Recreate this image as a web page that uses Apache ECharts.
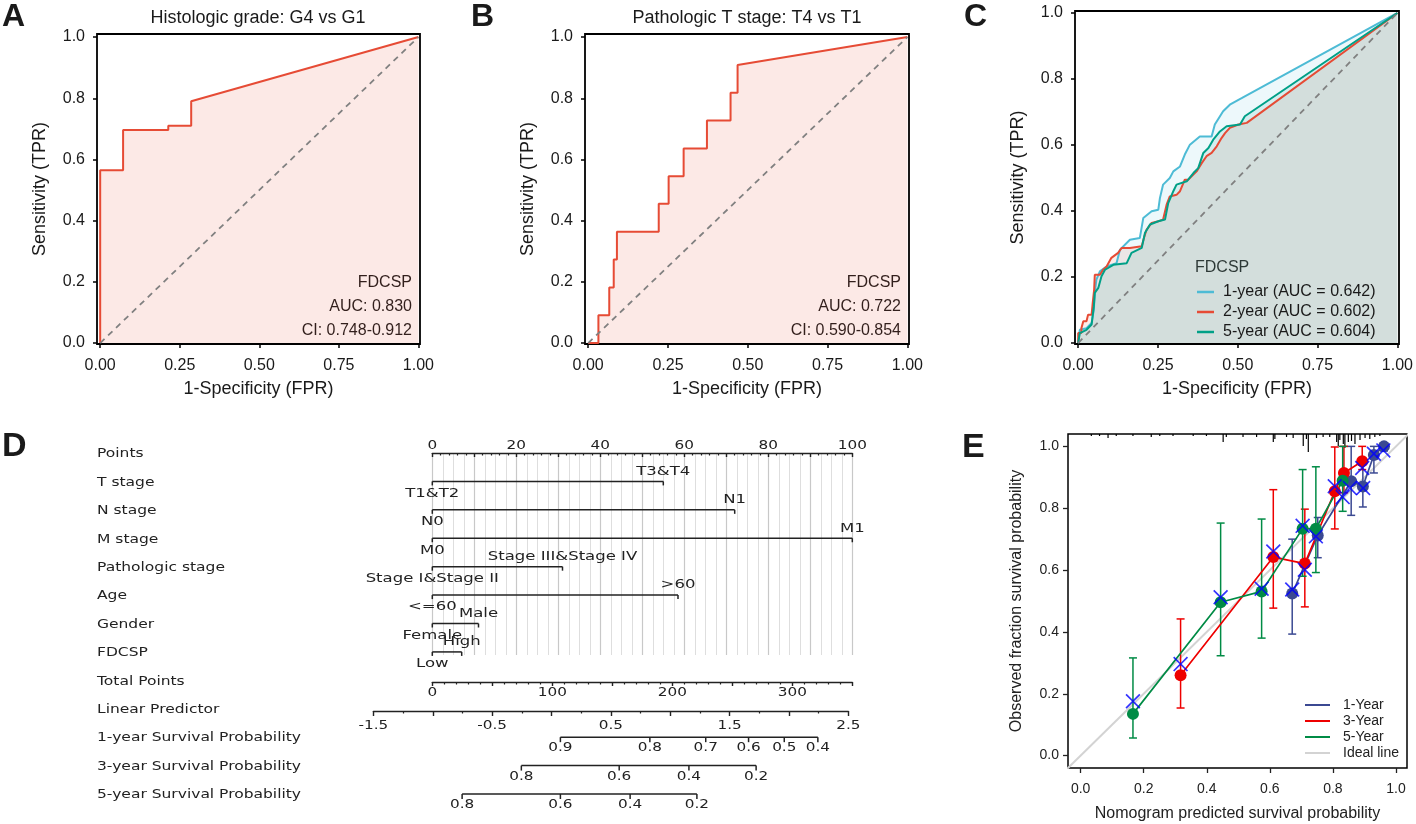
<!DOCTYPE html>
<html>
<head>
<meta charset="utf-8">
<script src="https://cdn.jsdelivr.net/npm/echarts@6.0.0/dist/echarts.min.js"></script>
<style>
html, body { margin: 0; padding: 0; background: #fff; }
#chart { width: 1416px; height: 824px; }
</style>
</head>
<body>
<div id="chart"></div>
<script>
// ---- A: histologic grade G4 vs G1 (ROC corners)
var rocA_fpr = [0, 0, 0.072, 0.072, 0.214, 0.214, 0.286, 0.286, 1];
var rocA_tpr = [0, 0.565, 0.565, 0.696, 0.696, 0.71, 0.71, 0.79, 1];
var annotA = ['FDCSP', 'AUC: 0.830', 'CI: 0.748-0.912'];

// ---- B: pathologic T stage T4 vs T1
var rocB_fpr = [0, 0.032, 0.032, 0.066, 0.066, 0.08, 0.08, 0.09, 0.09, 0.221, 0.221, 0.252, 0.252, 0.299, 0.299, 0.372, 0.372, 0.446, 0.446, 0.468, 0.468, 1];
var rocB_tpr = [0, 0, 0.091, 0.091, 0.182, 0.182, 0.273, 0.273, 0.364, 0.364, 0.455, 0.455, 0.545, 0.545, 0.636, 0.636, 0.727, 0.727, 0.818, 0.818, 0.909, 1];
var annotB = ['FDCSP', 'AUC: 0.722', 'CI: 0.590-0.854'];

// ---- C: time dependent ROC
var cYears = ['1-year', '2-year', '5-year'];
var cAuc = ['0.642', '0.602', '0.604'];
var roc1_fpr = [0, 0.005, 0.026, 0.042, 0.049, 0.052, 0.057, 0.068, 0.089, 0.12, 0.131, 0.162, 0.193, 0.204, 0.23, 0.251, 0.256, 0.266, 0.287, 0.298, 0.319, 0.334, 0.35, 0.381, 0.418, 0.428, 0.454, 0.475, 0.502, 0.512, 1];
var roc1_tpr = [0, 0.04, 0.045, 0.061, 0.101, 0.152, 0.192, 0.217, 0.232, 0.242, 0.283, 0.313, 0.318, 0.379, 0.399, 0.404, 0.439, 0.48, 0.5, 0.52, 0.535, 0.571, 0.601, 0.626, 0.626, 0.662, 0.702, 0.722, 0.737, 0.742, 1];
var roc2_fpr = [0, 0, 0.01, 0.01, 0.016, 0.016, 0.026, 0.026, 0.031, 0.031, 0.042, 0.045, 0.05, 0.052, 0.068, 0.078, 0.089, 0.104, 0.125, 0.136, 0.162, 0.199, 0.206, 0.214, 0.23, 0.251, 0.266, 0.277, 0.287, 0.308, 0.319, 0.334, 0.345, 0.371, 0.387, 0.402, 0.418, 0.434, 0.449, 0.46, 0.475, 0.502, 0.528, 1];
var roc2_tpr = [0, 0.03, 0.03, 0.045, 0.045, 0.066, 0.066, 0.071, 0.071, 0.086, 0.086, 0.116, 0.162, 0.207, 0.207, 0.222, 0.232, 0.258, 0.273, 0.288, 0.288, 0.293, 0.318, 0.343, 0.364, 0.369, 0.374, 0.419, 0.444, 0.449, 0.46, 0.495, 0.495, 0.52, 0.545, 0.566, 0.576, 0.596, 0.621, 0.636, 0.652, 0.662, 0.667, 1];
var roc5_fpr = [0, 0.005, 0.026, 0.042, 0.049, 0.052, 0.063, 0.073, 0.084, 0.11, 0.152, 0.167, 0.199, 0.209, 0.225, 0.251, 0.272, 0.282, 0.298, 0.308, 0.34, 0.361, 0.376, 0.392, 0.408, 0.423, 0.444, 0.465, 0.507, 0.522, 1];
var roc5_tpr = [0, 0.03, 0.04, 0.056, 0.111, 0.152, 0.167, 0.202, 0.222, 0.237, 0.242, 0.273, 0.288, 0.333, 0.359, 0.369, 0.374, 0.424, 0.46, 0.48, 0.49, 0.515, 0.53, 0.576, 0.591, 0.616, 0.641, 0.657, 0.662, 0.687, 1];

var chanceX = [0, 1];
var chanceY = [0, 1];
var rocTicks = [0, 0.25, 0.5, 0.75, 1];
var tprTicks = [0, 0.2, 0.4, 0.6, 0.8, 1];

// ---- D: nomogram (positions on the 0-100 points scale)
var nomoRows = ['Points', 'T stage', 'N stage', 'M stage', 'Pathologic stage', 'Age', 'Gender', 'FDCSP',
  'Total Points', 'Linear Predictor', '1-year Survival Probability', '3-year Survival Probability', '5-year Survival Probability'];
var tLevels = ['T1&T2', 'T3&T4'], tPoints = [0, 55];
var nLevels = ['N0', 'N1'], nPoints = [0, 72];
var mLevels = ['M0', 'M1'], mPoints = [0, 100];
var stageLevels = ['Stage I&Stage II', 'Stage III&Stage IV'], stagePoints = [0, 31];
var ageLevels = ['<=60', '>60'], agePoints = [0, 58.5];
var genderLevels = ['Female', 'Male'], genderPoints = [0, 11];
var fdcspLevels = ['Low', 'High'], fdcspPoints = [0, 7];
var surv1Labels = ['0.9', '0.8', '0.7', '0.6', '0.5', '0.4'], surv1Points = [30.5, 51.8, 65.1, 75.3, 83.8, 91.8];
var surv3Labels = ['0.8', '0.6', '0.4', '0.2'], surv3Points = [21.2, 44.5, 61.1, 77.1];
var surv5Labels = ['0.8', '0.6', '0.4', '0.2'], surv5Points = [7.1, 30.5, 47.1, 63.0];
var pointsLabels = [0, 20, 40, 60, 80, 100];
var totalLabels = [0, 100, 200, 300];
var lpLabels = [-1.5, -0.5, 0.5, 1.5, 2.5];

// ---- E: calibration
var e1x = [0.671, 0.752, 0.858, 0.895, 0.93, 0.962];
var e1y = [0.524, 0.712, 0.887, 0.87, 0.972, 1.0];
var e1lo = [0.393, 0.64, 0.777, 0.804, 0.914, 0.985];
var e1hi = [0.70, 0.77, 1.0, 0.946, 1.0, 1.0];
var e3x = [0.317, 0.611, 0.711, 0.806, 0.835, 0.893];
var e3y = [0.26, 0.642, 0.621, 0.855, 0.914, 0.952];
var e3lo = [0.154, 0.477, 0.481, 0.733, 0.85, 0.925];
var e3hi = [0.442, 0.86, 0.797, 0.998, 1.0, 1.0];
var e5x = [0.166, 0.444, 0.574, 0.704, 0.746, 0.831];
var e5y = [0.135, 0.496, 0.531, 0.734, 0.734, 0.889];
var e5lo = [0.057, 0.323, 0.38, 0.58, 0.592, 0.79];
var e5hi = [0.316, 0.752, 0.765, 0.925, 0.934, 1.0];
var eCorrX = [0.166, 0.317, 0.444, 0.574, 0.611, 0.671, 0.704, 0.711, 0.746, 0.806, 0.831, 0.854, 0.896, 0.893, 0.93, 0.96];
var eCorrY = [0.176, 0.296, 0.512, 0.54, 0.66, 0.537, 0.743, 0.601, 0.709, 0.871, 0.836, 0.865, 0.865, 0.93, 0.976, 0.987];
var rugX = [0.034, 0.06, 0.087, 0.113, 0.166, 0.224, 0.251, 0.293, 0.357, 0.399, 0.452, 0.462, 0.515, 0.558, 0.611, 0.616, 0.653, 0.674, 0.706, 0.716, 0.722, 0.748, 0.769, 0.79, 0.812, 0.817, 0.822, 0.833, 0.838, 0.849, 0.859, 0.87, 0.886, 0.902, 0.917, 0.933, 0.949];
var rugLen = [2, 2, 4, 2, 2, 3, 2, 2, 2, 2, 8, 3, 3, 3, 8, 5, 3, 4, 12, 5, 18, 4, 3, 3, 8, 12, 6, 10, 14, 8, 7, 10, 6, 4, 5, 3, 2];
var idealX = [-0.05, 1.05];
var idealY = [-0.05, 1.05];
var calTicks = [0, 0.2, 0.4, 0.6, 0.8, 1];
var eNames = ['1-Year', '3-Year', '5-Year', 'Ideal line'];
var eColors = ['#3B4992', '#EE0000', '#008B45', '#D3D3D3'];

var FONT = '"Liberation Sans", Arial, sans-serif';
var NFONT = '"DejaVu Sans", sans-serif';
var INK = '#1a1a1a';
var NINK = '#222';

function pairs(xs, ys) {
  return xs.map(function (x, i) { return [x, ys[i]]; });
}
function triples(xs, lo, hi) {
  return xs.map(function (x, i) { return [x, lo[i], hi[i]]; });
}

var chart = echarts.init(document.getElementById('chart'));

// grids 0-2: roc panels A, B, C
var grids = [
  { left: 97, top: 34, width: 323, height: 310 },
  { left: 585, top: 34, width: 324, height: 310 },
  { left: 1075, top: 11, width: 324, height: 333 }
];
grids.forEach(function (g) { g.show = true; g.borderColor = '#000'; g.borderWidth = 1.8; g.backgroundColor = 'transparent'; });

function rocX(i) {
  return {
    type: 'value', gridIndex: i, min: -0.01, max: 1.005,
    name: '1-Specificity (FPR)', nameLocation: 'middle', nameGap: 36,
    nameTextStyle: { fontSize: 18, color: INK, fontFamily: FONT },
    axisLine: { show: false, onZero: false },
    axisTick: { show: true, length: 4, customValues: rocTicks, lineStyle: { color: '#000', width: 1.5 } },
    axisLabel: { customValues: rocTicks, fontSize: 16, color: INK, fontFamily: FONT, margin: 14,
      formatter: function (v) { return v.toFixed(2); } },
    splitLine: { show: false }
  };
}
function rocY(i, min, max) {
  return {
    type: 'value', gridIndex: i, min: min, max: max,
    name: 'Sensitivity (TPR)', nameLocation: 'middle', nameGap: 48,
    nameTextStyle: { fontSize: 18, color: INK, fontFamily: FONT },
    axisLine: { show: false, onZero: false },
    axisTick: { show: true, length: 4, customValues: tprTicks, lineStyle: { color: '#000', width: 1.5 } },
    axisLabel: { customValues: tprTicks, fontSize: 16, color: INK, fontFamily: FONT, margin: 12,
      formatter: function (v) { return v.toFixed(1); } },
    splitLine: { show: false }
  };
}

var xAxes = [rocX(0), rocX(1), rocX(2)];
var yAxes = [rocY(0, -0.003, 1.01), rocY(1, -0.003, 1.01), rocY(2, -0.003, 1.006)];

// D grids: 3 rows, 4 vertical lines + points axis, 5 total points, 6 linear predictor
grids.push({ left: 432.3, top: 453, width: 420, height: 341 });
grids.push({ left: 432.3, top: 453, width: 420, height: 202 });
grids.push({ left: 432.3, top: 682, width: 420, height: 1 });
grids.push({ left: 373.4, top: 711, width: 475, height: 1 });

function nomoAxis(grid, min, max, interval, split, tickLen) {
  return {
    type: 'value', gridIndex: grid, min: min, max: max, interval: interval, position: 'top',
    axisLine: { show: true, onZero: false, lineStyle: { color: NINK, width: 1.4 } },
    axisTick: { show: true, inside: true, length: tickLen, lineStyle: { color: NINK, width: 1.4 } },
    minorTick: { show: true, splitNumber: split, length: 2.5, lineStyle: { color: NINK, width: 1.2 } },
    axisLabel: { show: false }, splitLine: { show: false }
  };
}
xAxes.push({ type: 'value', gridIndex: 3, min: 0, max: 100, show: false });               // 3
xAxes.push({                                                                               // 4
  type: 'value', gridIndex: 4, min: 0, max: 100, interval: 10, position: 'bottom',
  axisLine: { show: false }, axisTick: { show: false }, axisLabel: { show: false },
  splitLine: { show: true, lineStyle: { color: '#c8c8c8', width: 1.2 } },
  minorTick: { show: false, splitNumber: 4 },
  minorSplitLine: { show: true, lineStyle: { color: '#dedede', width: 1 } }
});
xAxes.push(nomoAxis(4, 0, 100, 10, 5, 4));        // 5 points
xAxes.push(nomoAxis(5, 0, 350, 50, 5, 4));        // 6 total points
xAxes.push(nomoAxis(6, -1.5, 2.5, 0.5, 2, 5));    // 7 linear predictor
yAxes.push({ type: 'category', gridIndex: 3, data: nomoRows, inverse: true, boundaryGap: false, show: false });
yAxes.push({ type: 'value', gridIndex: 4, show: false });
yAxes.push({ type: 'value', gridIndex: 5, show: false });
yAxes.push({ type: 'value', gridIndex: 6, show: false });

// grid 7: E
grids.push({ left: 1068, top: 434, width: 339, height: 334, show: true, borderColor: '#000', borderWidth: 1.5, backgroundColor: 'transparent' });
xAxes.push({                                                                               // 8
  type: 'value', gridIndex: 7, min: -0.04, max: 1.035,
  name: 'Nomogram predicted survival probability', nameLocation: 'middle', nameGap: 38,
  nameTextStyle: { fontSize: 16, color: NINK, fontFamily: FONT },
  axisLine: { show: false, onZero: false },
  axisTick: { show: true, length: 5, customValues: calTicks, lineStyle: { color: NINK, width: 1.3 } },
  axisLabel: { customValues: calTicks, fontSize: 14, color: NINK, fontFamily: FONT, margin: 14,
    formatter: function (v) { return v.toFixed(1); } },
  splitLine: { show: false }
});
yAxes.push({                                                                               // 7
  type: 'value', gridIndex: 7, min: -0.04, max: 1.04,
  name: 'Observed fraction survival probability', nameLocation: 'middle', nameGap: 43,
  nameTextStyle: { fontSize: 16, color: NINK, fontFamily: FONT },
  axisLine: { show: false, onZero: false },
  axisTick: { show: true, length: 5, customValues: calTicks, lineStyle: { color: NINK, width: 1.3 } },
  axisLabel: { customValues: calTicks, fontSize: 14, color: NINK, fontFamily: FONT, margin: 9,
    formatter: function (v) { return v.toFixed(1); } },
  splitLine: { show: false }
});

var series = [];
function rocSeries(idx, name, xs, ys, color, alpha) {
  return {
    type: 'line', name: name, xAxisIndex: idx, yAxisIndex: idx, data: pairs(xs, ys),
    symbol: 'none', color: color, lineStyle: { color: color, width: 2 },
    areaStyle: { color: color, opacity: alpha }, z: 2
  };
}
function chance(idx) {
  return {
    type: 'line', xAxisIndex: idx, yAxisIndex: idx, data: pairs(chanceX, chanceY), symbol: 'none',
    lineStyle: { color: '#808080', width: 1.8, type: [6, 5] }, z: 3
  };
}
series.push(rocSeries(0, 'A', rocA_fpr, rocA_tpr, '#E64B35', 0.12));
series.push(chance(0));
series.push(rocSeries(1, 'B', rocB_fpr, rocB_tpr, '#E64B35', 0.12));
series.push(chance(1));
var cColors = ['#4DBBD5', '#E64B35', '#00A087'];
var cData = [[roc1_fpr, roc1_tpr], [roc2_fpr, roc2_tpr], [roc5_fpr, roc5_tpr]];
var cNames = cYears.map(function (y, i) { return y + ' (AUC = ' + cAuc[i] + ')'; });
cData.forEach(function (d, i) { series.push(rocSeries(2, cNames[i], d[0], d[1], cColors[i], 0.1)); });
series.push(chance(2));

// ---- nomogram drawing
var LVL_SCALE = 1.32, NUM_SCALE = 1.22, ROW_SCALE = 1.24;
function nText(x, y, s, scale, align) {
  return { type: 'text', x: x, y: y, scaleX: scale,
    style: { text: s, align: align || 'center', verticalAlign: 'middle', font: '12.5px ' + NFONT, fill: NINK } };
}
var nomoVars = [
  { row: 1, levels: tLevels, pts: tPoints },
  { row: 2, levels: nLevels, pts: nPoints },
  { row: 3, levels: mLevels, pts: mPoints },
  { row: 4, levels: stageLevels, pts: stagePoints },
  { row: 5, levels: ageLevels, pts: agePoints },
  { row: 6, levels: genderLevels, pts: genderPoints },
  { row: 7, levels: fdcspLevels, pts: fdcspPoints }
];
var survRows = [
  { row: 10, levels: surv1Labels, pts: surv1Points },
  { row: 11, levels: surv3Labels, pts: surv3Points },
  { row: 12, levels: surv5Labels, pts: surv5Points }
];
var segData = [], tickData = [], tickInfo = [];
nomoVars.forEach(function (v) {
  segData.push([v.pts[0], v.pts[v.pts.length - 1], v.row]);
  v.pts.forEach(function (p, i) {
    tickData.push([p, v.row]);
    tickInfo.push({ label: v.levels[i], dy: i % 2 ? -10 : 12, len: 4, scale: LVL_SCALE });
  });
});
survRows.forEach(function (v) {
  segData.push([v.pts[0], v.pts[v.pts.length - 1], v.row]);
  v.pts.forEach(function (p, i) {
    tickData.push([p, v.row]);
    tickInfo.push({ label: v.levels[i], dy: 11, len: 5, scale: NUM_SCALE });
  });
});
// row names
series.push({
  type: 'custom', xAxisIndex: 3, yAxisIndex: 3, data: nomoRows.map(function (r, i) { return [0, i]; }),
  encode: { x: 0, y: 1 },
  renderItem: function (params, api) {
    var p = api.coord([0, api.value(1)]);
    return nText(97, p[1] + 1, nomoRows[params.dataIndex], ROW_SCALE, 'left');
  }
});
series.push({
  type: 'custom', xAxisIndex: 3, yAxisIndex: 3, data: segData, encode: { x: [0, 1], y: 2 },
  renderItem: function (params, api) {
    var a = api.coord([api.value(0), api.value(2)]);
    var b = api.coord([api.value(1), api.value(2)]);
    return { type: 'line', shape: { x1: a[0], y1: a[1], x2: b[0], y2: b[1] }, style: { stroke: NINK, lineWidth: 1.5 } };
  }
});
series.push({
  type: 'custom', xAxisIndex: 3, yAxisIndex: 3, data: tickData, encode: { x: 0, y: 1 },
  renderItem: function (params, api) {
    var info = tickInfo[params.dataIndex];
    var p = api.coord([api.value(0), api.value(1)]);
    return {
      type: 'group', children: [
        { type: 'line', shape: { x1: p[0], y1: p[1], x2: p[0], y2: p[1] + info.len }, style: { stroke: NINK, lineWidth: 1.5 } },
        nText(p[0], p[1] + info.dy, info.label, info.scale)
      ]
    };
  }
});
function axisLabels(xIdx, yIdx, values, dy, fmt) {
  return {
    type: 'custom', xAxisIndex: xIdx, yAxisIndex: yIdx, data: values.map(function (v) { return [v, 0]; }),
    encode: { x: 0, y: 1 },
    renderItem: function (params, api) {
      var p = api.coord([api.value(0), 0]);
      return nText(p[0], params.coordSys.y + dy, fmt(api.value(0)), NUM_SCALE);
    }
  };
}
series.push(axisLabels(5, 4, pointsLabels, -7, function (v) { return String(v); }));
series.push(axisLabels(6, 5, totalLabels, 11, function (v) { return String(v); }));
series.push(axisLabels(7, 6, lpLabels, 15, function (v) { return v.toFixed(1); }));

// ---- calibration E
series.push({
  type: 'custom', xAxisIndex: 8, yAxisIndex: 7, data: pairs(rugX, rugLen), encode: { x: 0 },
  renderItem: function (params, api) {
    var p = api.coord([api.value(0), 0]);
    var top = params.coordSys.y;
    return { type: 'line', shape: { x1: p[0], y1: top, x2: p[0], y2: top + api.value(1) }, style: { stroke: '#000', lineWidth: 1.2 } };
  }
});
series.push({
  type: 'line', name: 'Ideal line', xAxisIndex: 8, yAxisIndex: 7, data: pairs(idealX, idealY),
  symbol: 'none', color: eColors[3], lineStyle: { color: eColors[3], width: 2 }, z: 1
});
function errorBars(xs, lo, hi, color) {
  return {
    type: 'custom', xAxisIndex: 8, yAxisIndex: 7, data: triples(xs, lo, hi), encode: { x: 0, y: [1, 2] }, z: 2,
    renderItem: function (params, api) {
      var a = api.coord([api.value(0), api.value(1)]);
      var b = api.coord([api.value(0), api.value(2)]);
      var st = { stroke: color, lineWidth: 1.5 };
      return {
        type: 'group', children: [
          { type: 'line', shape: { x1: a[0], y1: a[1], x2: b[0], y2: b[1] }, style: st },
          { type: 'line', shape: { x1: a[0] - 4, y1: a[1], x2: a[0] + 4, y2: a[1] }, style: st },
          { type: 'line', shape: { x1: b[0] - 4, y1: b[1], x2: b[0] + 4, y2: b[1] }, style: st }
        ]
      };
    }
  };
}
function calLine(name, xs, ys, color) {
  return {
    type: 'line', name: name, xAxisIndex: 8, yAxisIndex: 7, data: pairs(xs, ys),
    symbol: 'circle', symbolSize: 12, showSymbol: true, color: color,
    itemStyle: { color: color }, lineStyle: { color: color, width: 1.7 }, z: 3
  };
}
series.push(errorBars(e1x, e1lo, e1hi, eColors[0]));
series.push(calLine(eNames[0], e1x, e1y, eColors[0]));
series.push(errorBars(e3x, e3lo, e3hi, eColors[1]));
series.push(calLine(eNames[1], e3x, e3y, eColors[1]));
series.push(errorBars(e5x, e5lo, e5hi, eColors[2]));
series.push(calLine(eNames[2], e5x, e5y, eColors[2]));
series.push({
  type: 'scatter', xAxisIndex: 8, yAxisIndex: 7, data: pairs(eCorrX, eCorrY), z: 4,
  symbol: 'path://M0,0.8 L0.8,0 L5,4.2 L9.2,0 L10,0.8 L5.8,5 L10,9.2 L9.2,10 L5,5.8 L0.8,10 L0,9.2 L4.2,5 Z',
  symbolSize: 15, itemStyle: { color: '#0000ff' }
});

function txt(x, y, s, font, align) {
  return { type: 'text', x: x, y: y, style: { text: s, font: font, fill: INK, align: align || 'left', verticalAlign: 'middle' } };
}
var graphics = [
  txt(2, 17, 'A', 'bold 32px ' + FONT), txt(471, 17, 'B', 'bold 32px ' + FONT), txt(964, 17, 'C', 'bold 32px ' + FONT),
  txt(2, 447, 'D', 'bold 34px ' + FONT), txt(962, 448, 'E', 'bold 34px ' + FONT),
  txt(258, 18, 'Histologic grade: G4 vs G1', '18px ' + FONT, 'center'),
  txt(747, 18, 'Pathologic T stage: T4 vs T1', '18px ' + FONT, 'center'),
  txt(1195, 268, 'FDCSP', '16px ' + FONT)
];
annotA.forEach(function (s, i) { graphics.push(txt(412, 283 + i * 24, s, '16px ' + FONT, 'right')); });
annotB.forEach(function (s, i) { graphics.push(txt(901, 283 + i * 24, s, '16px ' + FONT, 'right')); });

chart.setOption({
  backgroundColor: '#fff',
  animation: false,
  grid: grids,
  xAxis: xAxes,
  yAxis: yAxes,
  legend: [
    { data: cNames, left: 1192, top: 279, orient: 'vertical', icon: 'rect', itemWidth: 17, itemHeight: 2.5, itemGap: 4,
      selectedMode: false, textStyle: { fontSize: 16, color: INK, fontFamily: FONT, padding: [0, 0, 0, 4] } },
    { data: eNames, left: 1300, top: 693, orient: 'vertical', icon: 'rect', itemWidth: 25, itemHeight: 2, itemGap: 2,
      selectedMode: false, textStyle: { fontSize: 14, color: NINK, fontFamily: FONT, padding: [0, 0, 0, 8] } }
  ],
  graphic: graphics,
  series: series
});
</script>
</body>
</html>
